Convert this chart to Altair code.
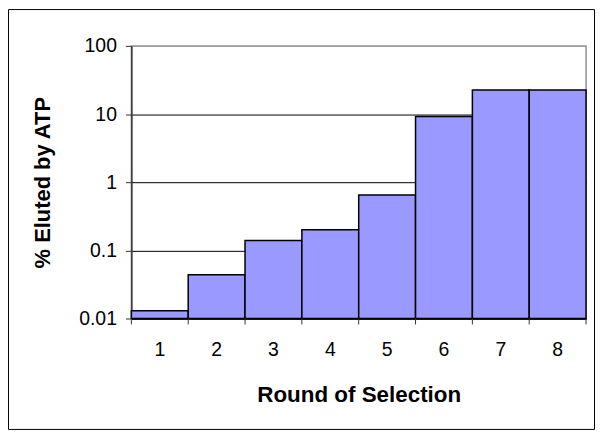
import altair as alt
import pandas as pd

rounds = [1, 2, 3, 4, 5, 6, 7, 8]
eluted = [0.013, 0.044, 0.14, 0.2, 0.65, 9.2, 22.5, 22.5]
boundaries = [0, 1, 2, 3, 4, 5, 6, 7, 8]
y_ticks = [0.01, 0.1, 1, 10, 100]

FONT = "Liberation Sans, Arial"

df = pd.DataFrame({"round": rounds, "eluted": eluted})
bdf = pd.DataFrame({"b": boundaries})
frame_df = pd.DataFrame({"a": [0]})

W, H = 457, 274
PAD = {"left": 124, "top": 37, "right": 9, "bottom": 112}

bars = alt.Chart(df).mark_bar(
    color="#9999FF", stroke="black", strokeWidth=1.5
).encode(
    x=alt.X(
        "round:O",
        scale=alt.Scale(paddingInner=0, paddingOuter=0),
        axis=alt.Axis(
            title="Round of Selection",
            labelAngle=0,
            ticks=False,
            tickSize=0,
            labelPadding=37,
            labelBaseline="alphabetic",
            labelFont=FONT,
            labelFontSize=19.5,
            labelColor="black",
            domainColor="black",
            domainWidth=1.5,
            grid=False,
            titleFont=FONT,
            titleFontSize=22.5,
            titleFontWeight="bold",
            titleColor="black",
            titleX=228.5,
            titleY=83,
            titleBaseline="alphabetic",
            titleAlign="center",
        ),
    ),
    y=alt.Y(
        "eluted:Q",
        scale=alt.Scale(type="log", domain=[0.01, 100], nice=False),
        axis=alt.Axis(
            title="% Eluted by ATP",
            values=y_ticks,
            format="~g",
            grid=True,
            gridColor=alt.condition("datum.value >= 100", alt.value("#a0a0a0"), alt.value("black")),
            gridWidth=1,
            tickSize=6,
            tickColor="#333333",
            domainColor="#333333",
            domainWidth=1.5,
            labelPadding=9,
            labelFont=FONT,
            labelFontSize=19.5,
            labelColor="black",
            titleFont=FONT,
            titleFontSize=22,
            titleFontWeight="bold",
            titleColor="black",
            titleX=-89,
            titleY=137,
            titleAngle=270,
            titleBaseline="middle",
            titleAlign="center",
        ),
    ),
    y2=alt.datum(0.01),
)

ticks = alt.Chart(bdf).mark_rule(color="#333333", strokeWidth=1).encode(
    x=alt.X("b:Q", scale=alt.Scale(domain=[0, 8], nice=False, zero=False), axis=None),
    y=alt.value(H),
    y2=alt.value(H + 6),
)

frame = alt.Chart(frame_df).mark_rect(fill="transparent", stroke="black", strokeWidth=1).encode(
    x=alt.value(-PAD["left"] + 0.5),
    x2=alt.value(W + PAD["right"] - 0.5),
    y=alt.value(-PAD["top"] + 0.5),
    y2=alt.value(H + PAD["bottom"] - 0.5),
)

chart = alt.layer(bars, ticks, frame).resolve_scale(x="independent").properties(
    width=W, height=H, padding=PAD, autosize="none", background="white"
).configure_view(stroke="#909090", strokeWidth=1.5)

chart.save("out.html", embed_options={"renderer": "svg", "actions": False})
